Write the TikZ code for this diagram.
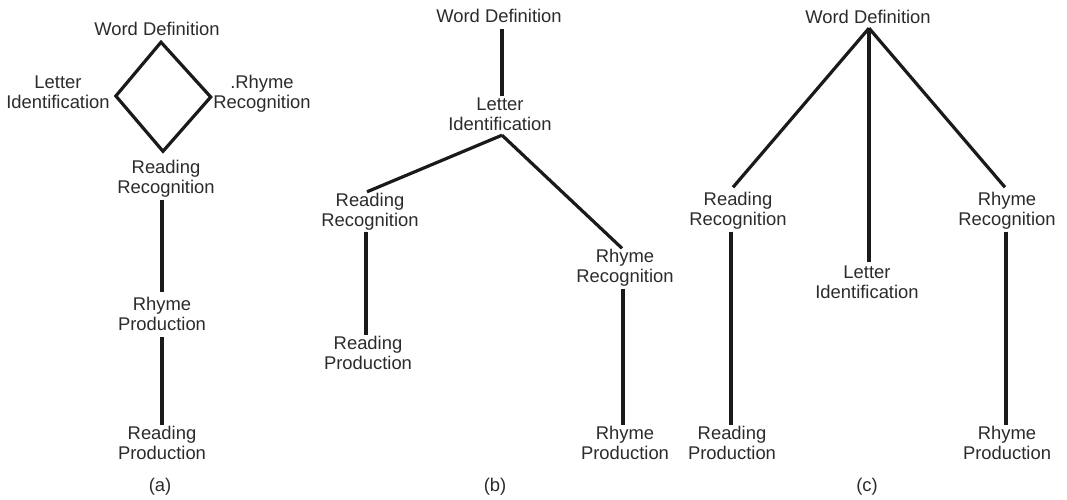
\documentclass[tikz,border=0pt]{standalone}
\usepackage{fontspec}
\setmainfont{Liberation Sans}
\definecolor{txt}{HTML}{2B2B2B}
\definecolor{ln}{HTML}{1A1A1A}
\begin{document}
\begin{tikzpicture}[x=1pt,y=-1pt,
  lbl/.style={inner sep=0pt,align=center,text=txt,font=\fontsize{18.4}{20}\selectfont},
  vline/.style={draw=ln,line width=4pt},
  dline/.style={draw=ln,line width=3.2pt},
  dmd/.style={draw=ln,line width=3.2pt,line join=miter}]
\useasboundingbox (0,0) rectangle (1067,500);
% (a)
\node[lbl] (wdA) at (157,31.5) {\strut Word Definition\strut};
\node[lbl] (liA) at (58,94.5) {\strut Letter\\Identification\strut};
\node[lbl] (rrA) at (262,94.5) {\strut .Rhyme\\Recognition\strut};
\node[lbl] (rdrA) at (166,179.5) {\strut Reading\\Recognition\strut};
\node[lbl] (rpA) at (162,316.5) {\strut Rhyme\\Production\strut};
\node[lbl] (rdpA) at (162,445.5) {\strut Reading\\Production\strut};
\node[lbl] (labA) at (160,487.5) {\strut (a)\strut};
\draw[dmd] ([xshift=4pt,yshift=-0.5pt]wdA.south) -- ([xshift=6pt,yshift=-1.5pt]liA.east)
  -- ([shift={(-3pt,8pt)}]rdrA.north) -- ([xshift=-2.5pt,yshift=-2.5pt]rrA.west) -- cycle;
\draw[vline] ([xshift=-4pt]rdrA.south) -- ([yshift=4pt]rpA.north);
\draw[vline] (rpA.south) -- (rdpA.north);
% (b)
\node[lbl] (wdB) at (499,19) {\strut Word Definition\strut};
\node[lbl] (liB) at (500,116.5) {\strut Letter\\Identification\strut};
\node[lbl] (rdrB) at (370,212) {\strut Reading\\Recognition\strut};
\node[lbl] (rdpB) at (368,355.5) {\strut Reading\\Production\strut};
\node[lbl] (rrB) at (625,268.5) {\strut Rhyme\\Recognition\strut};
\node[lbl] (rpB) at (625,445.5) {\strut Rhyme\\Production\strut};
\node[lbl] (labB) at (495,487.5) {\strut (b)\strut};
\draw[vline] ([xshift=3pt]wdB.south) -- ([xshift=2pt]liB.north);
\draw[dline] ([xshift=2pt,yshift=1.5pt]liB.south) -- ([xshift=-3pt]rdrB.north);
\draw[dline] ([xshift=2pt,yshift=1.5pt]liB.south) -- ([xshift=-3pt]rrB.north);
\draw[vline] ([xshift=-2pt]rdpB.north |- rdrB.south) -- ([xshift=-2pt]rdpB.north);
\draw[vline] ([xshift=-2pt]rpB.north |- rrB.south) -- ([xshift=-2pt]rpB.north);
% (c)
\node[lbl] (wdC) at (868,19.5) {\strut Word Definition\strut};
\node[lbl] (rdrC) at (738,211.5) {\strut Reading\\Recognition\strut};
\node[lbl] (liC) at (867,284.5) {\strut Letter\\Identification\strut};
\node[lbl] (rrC) at (1007,211.5) {\strut Rhyme\\Recognition\strut};
\node[lbl] (rdpC) at (732,445.5) {\strut Reading\\Production\strut};
\node[lbl] (rpC) at (1007,445.5) {\strut Rhyme\\Production\strut};
\node[lbl] (labC) at (867,487.5) {\strut (c)\strut};
\draw[dline] ([xshift=1pt,yshift=1.5pt]wdC.south) -- ([xshift=-5pt,yshift=4pt]rdrC.north);
\draw[dline] ([xshift=1pt,yshift=1.5pt]wdC.south) -- ([xshift=-2pt,yshift=4pt]rrC.north);
\draw[vline] ([xshift=1pt,yshift=1.5pt]wdC.south) -- ([xshift=2pt,yshift=2pt]liC.north);
\draw[vline] ([xshift=-1pt]rdpC.north |- rdrC.south) -- ([xshift=-1pt]rdpC.north);
\draw[vline] ([xshift=-1pt]rpC.north |- rrC.south) -- ([xshift=-1pt]rpC.north);
\end{tikzpicture}
\end{document}
